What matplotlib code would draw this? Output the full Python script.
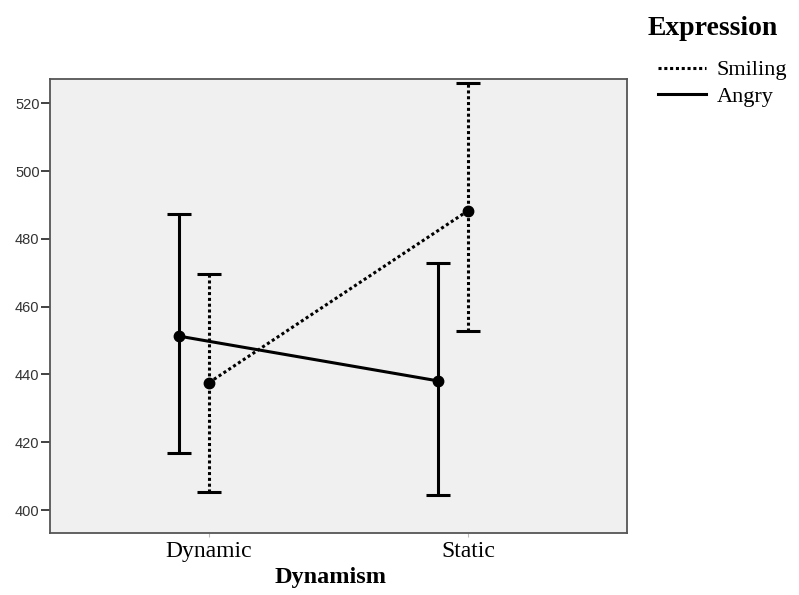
import numpy as np
import matplotlib.pyplot as plt
from matplotlib.lines import Line2D

# Data (means and error bar ends)
categories = ['Dynamic', 'Static']
series = ['Smiling', 'Angry']
smiling_mean = [437.6, 488.3]
smiling_low = [405.4, 452.8]
smiling_high = [469.6, 526.0]
angry_mean = [451.3, 438.1]
angry_low = [416.7, 404.3]
angry_high = [487.3, 472.8]
yticks = [400, 420, 440, 460, 480, 500, 520]

x = np.arange(len(categories))
shift = -0.116  # angry bars drawn a bit left of the category

fig = plt.figure(figsize=(7.99, 5.95), dpi=100)
ax = fig.add_axes([0.0626, 0.104, 0.7222, 0.763])
ax.set_facecolor('#f0f0f0')

dot = (0, (1.0, 0.9))

# Smiling: dotted
m = np.array(smiling_mean)
err = [m - np.array(smiling_low), np.array(smiling_high) - m]
eb = ax.errorbar(x, m, yerr=err, color='black', lw=2.2, ls=dot,
                 marker='o', ms=7.5, capsize=8.6, capthick=2.2, zorder=3)
eb[2][0].set_linestyle(dot)

# Angry: solid
m = np.array(angry_mean)
err = [m - np.array(angry_low), np.array(angry_high) - m]
ax.errorbar(x + shift, m, yerr=err, color='black', lw=2.2, ls='-',
            marker='o', ms=7.5, capsize=8.6, capthick=2.2, zorder=3)

ax.set_xlim(-0.614, 1.614)
ax.set_ylim(393.2, 527.1)
ax.set_yticks(yticks)
ax.set_xticks(x)
ax.set_xticklabels(categories, family='Liberation Serif', fontsize=17)
ax.tick_params(axis='y', labelsize=10.5, colors='#333333', length=6.5, width=1.3,
               direction='out', pad=1, labelcolor='#333333')
ax.tick_params(axis='x', length=3, width=0.8, colors='#bbbbbb',
               labelcolor='black', pad=3)
for lbl in ax.get_yticklabels():
    lbl.set_family('Liberation Sans')

for s in ax.spines.values():
    s.set_color('#555555')
    s.set_linewidth(1.3)

ax.set_xlabel('Dynamism', family='Liberation Serif', fontsize=17.5,
              fontweight='bold')
ax.xaxis.set_label_coords(0.486, -0.075)

# legend outside, on the right
handles = [Line2D([], [], color='black', lw=2.2, ls=dot),
           Line2D([], [], color='black', lw=2.2, ls='-')]
fig.legend(handles, series, loc='upper left', bbox_to_anchor=(0.809, 0.918),
           frameon=False, borderpad=0, handlelength=2.2, handletextpad=0.45,
           labelspacing=0.28, prop={'family': 'Liberation Serif', 'size': 16})
fig.text(0.811, 0.952, 'Expression', family='Liberation Serif', fontsize=20,
         fontweight='bold', va='center', ha='left')

fig.savefig('out.png', dpi=100)
